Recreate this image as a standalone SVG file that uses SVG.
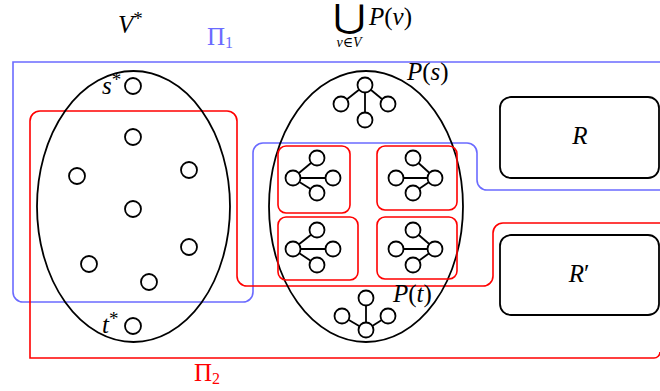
<svg xmlns="http://www.w3.org/2000/svg" width="660" height="391" viewBox="0 0 660 391">
<style>
.m{font-family:"Liberation Serif","DejaVu Serif",serif;font-style:italic;font-size:25px;fill:#000}
.sup{font-family:"Liberation Serif","DejaVu Serif",serif;font-style:normal;font-size:19px}
.up{font-family:"Liberation Serif","DejaVu Serif",serif;font-style:normal;font-size:25px}
.sub{font-family:"Liberation Serif","DejaVu Serif",serif;font-style:normal;font-size:16px}
.el{fill:none;stroke:#000;stroke-width:1.8}
.v{fill:#fff;stroke:#000;stroke-width:1.8}
.e{stroke:#000;stroke-width:1.8}
.box{fill:none;stroke:#000;stroke-width:1.8}
.rb{fill:none;stroke:#ff0000;stroke-width:1.6}
.blue{fill:none;stroke:#6b6bff;stroke-width:1.6}
</style>
<rect width="660" height="391" fill="#fff"/>

<g id="Pi1">
<path class="blue" d="M 660 62 L 13 62 L 13 292 A 10 10 0 0 0 23 302 L 243 302 A 10 10 0 0 0 253 292 L 253 153 A 10 10 0 0 1 263 143 L 467 143 A 10 10 0 0 1 477 153 L 477 180 A 10 10 0 0 0 487 190 L 660 190"/>
<text x="207" y="45" fill="#6b6bff" class="up">Π<tspan class="sub" dy="3">1</tspan></text>
</g>

<g id="Pi2">
<path class="rb" d="M 660 223 L 503 223 A 10 10 0 0 0 493 233 L 493 276 A 10 10 0 0 1 483 286 L 247 286 A 10 10 0 0 1 237 276 L 237 121 A 10 10 0 0 0 227 111 L 40 111 A 10 10 0 0 0 30 121 L 30 358 L 654 358 A 6 6 0 0 0 660 352"/>
<text x="194" y="381" fill="#ff0000" class="up">Π<tspan class="sub" dy="3">2</tspan></text>
</g>

<g id="Vstar">
<ellipse class="el" cx="133.5" cy="206.5" rx="96.5" ry="135.5"/>
<text x="118" y="33" class="m">V<tspan class="sup" dy="-8">*</tspan></text>
</g>

<g id="s-star"><circle class="v" cx="133" cy="86" r="8"/><text x="102" y="94" class="m">s<tspan class="sup" dy="-8">*</tspan></text></g>
<g id="v1"><circle class="v" cx="133" cy="137" r="8"/></g>
<g id="v2"><circle class="v" cx="77" cy="176" r="8"/></g>
<g id="v3"><circle class="v" cx="189" cy="170" r="8"/></g>
<g id="v4"><circle class="v" cx="133" cy="209" r="8"/></g>
<g id="v5"><circle class="v" cx="189" cy="247" r="8"/></g>
<g id="v6"><circle class="v" cx="89" cy="264" r="8"/></g>
<g id="v7"><circle class="v" cx="149" cy="282" r="8"/></g>
<g id="t-star"><circle class="v" cx="133" cy="326" r="8"/><text x="102" y="333" class="m">t<tspan class="sup" dy="-8">*</tspan></text></g>

<g id="PV">
<ellipse class="el" cx="366" cy="206.5" rx="97" ry="135.5"/>
<text x="350" y="27" text-anchor="middle" font-family="DejaVu Serif,serif" font-size="32" transform="translate(350 0) scale(1.25 1) translate(-350 0)">⋃</text>
<text x="349" y="47" text-anchor="middle" class="m" style="font-size:14px">v<tspan font-style="normal">∈</tspan>V</text>
<text x="369" y="25" class="m">P<tspan font-style="normal">(</tspan>v<tspan font-style="normal">)</tspan></text>
</g>

<g id="connectors">
<line class="e" x1="365" y1="85" x2="341" y2="104"/>
<line class="e" x1="365" y1="85" x2="388" y2="104"/>
<line class="e" x1="365" y1="85" x2="365" y2="120"/>
<line class="e" x1="366" y1="330" x2="342" y2="316"/>
<line class="e" x1="366" y1="330" x2="388" y2="316"/>
<line class="e" x1="366" y1="330" x2="366" y2="298"/>
<line class="e" x1="293" y1="178" x2="317" y2="158"/>
<line class="e" x1="293" y1="178" x2="317" y2="193"/>
<line class="e" x1="293" y1="178" x2="333" y2="178"/>
<line class="e" x1="435" y1="178" x2="413" y2="158"/>
<line class="e" x1="435" y1="178" x2="413" y2="193"/>
<line class="e" x1="435" y1="178" x2="396" y2="178"/>
<line class="e" x1="293" y1="249" x2="317" y2="230"/>
<line class="e" x1="293" y1="249" x2="317" y2="265"/>
<line class="e" x1="293" y1="249" x2="333" y2="249"/>
<line class="e" x1="435" y1="249" x2="413" y2="230"/>
<line class="e" x1="435" y1="249" x2="413" y2="265"/>
<line class="e" x1="435" y1="249" x2="396" y2="249"/>
</g>

<g id="Ps">
<circle class="v" cx="365" cy="85" r="7.5"/><circle class="v" cx="341" cy="104" r="7.5"/><circle class="v" cx="388" cy="104" r="7.5"/><circle class="v" cx="365" cy="120" r="7.5"/>
<text x="407" y="80" class="m">P<tspan font-style="normal">(</tspan>s<tspan font-style="normal">)</tspan></text>
</g>

<g id="Pt">
<circle class="v" cx="366" cy="298" r="7.5"/><circle class="v" cx="342" cy="316" r="7.5"/><circle class="v" cx="388" cy="316" r="7.5"/><circle class="v" cx="366" cy="330" r="7.5"/>
<text x="393" y="302" class="m">P<tspan font-style="normal">(</tspan>t<tspan font-style="normal">)</tspan></text>
</g>

<g id="T1">
<rect class="rb" x="278" y="146" width="72" height="67" rx="8"/>
<circle class="v" cx="293" cy="178" r="7.5"/><circle class="v" cx="317" cy="158" r="7.5"/><circle class="v" cx="333" cy="178" r="7.5"/><circle class="v" cx="317" cy="193" r="7.5"/>
</g>
<g id="T2">
<rect class="rb" x="377" y="146" width="80" height="64" rx="8"/>
<circle class="v" cx="396" cy="178" r="7.5"/><circle class="v" cx="413" cy="158" r="7.5"/><circle class="v" cx="435" cy="178" r="7.5"/><circle class="v" cx="413" cy="193" r="7.5"/>
</g>
<g id="T3">
<rect class="rb" x="278" y="217" width="80" height="63" rx="8"/>
<circle class="v" cx="293" cy="249" r="7.5"/><circle class="v" cx="317" cy="230" r="7.5"/><circle class="v" cx="333" cy="249" r="7.5"/><circle class="v" cx="317" cy="265" r="7.5"/>
</g>
<g id="T4">
<rect class="rb" x="377" y="217" width="80" height="62" rx="8"/>
<circle class="v" cx="396" cy="249" r="7.5"/><circle class="v" cx="413" cy="230" r="7.5"/><circle class="v" cx="435" cy="249" r="7.5"/><circle class="v" cx="413" cy="265" r="7.5"/>
</g>

<g id="R">
<rect class="box" x="500" y="97" width="159" height="81" rx="11"/>
<text x="580" y="144" text-anchor="middle" class="m">R</text>
</g>
<g id="Rprime">
<rect class="box" x="500" y="235" width="159" height="80" rx="11"/>
<text x="579" y="282" text-anchor="middle" class="m">R<tspan font-style="normal">′</tspan></text>
</g>
</svg>
